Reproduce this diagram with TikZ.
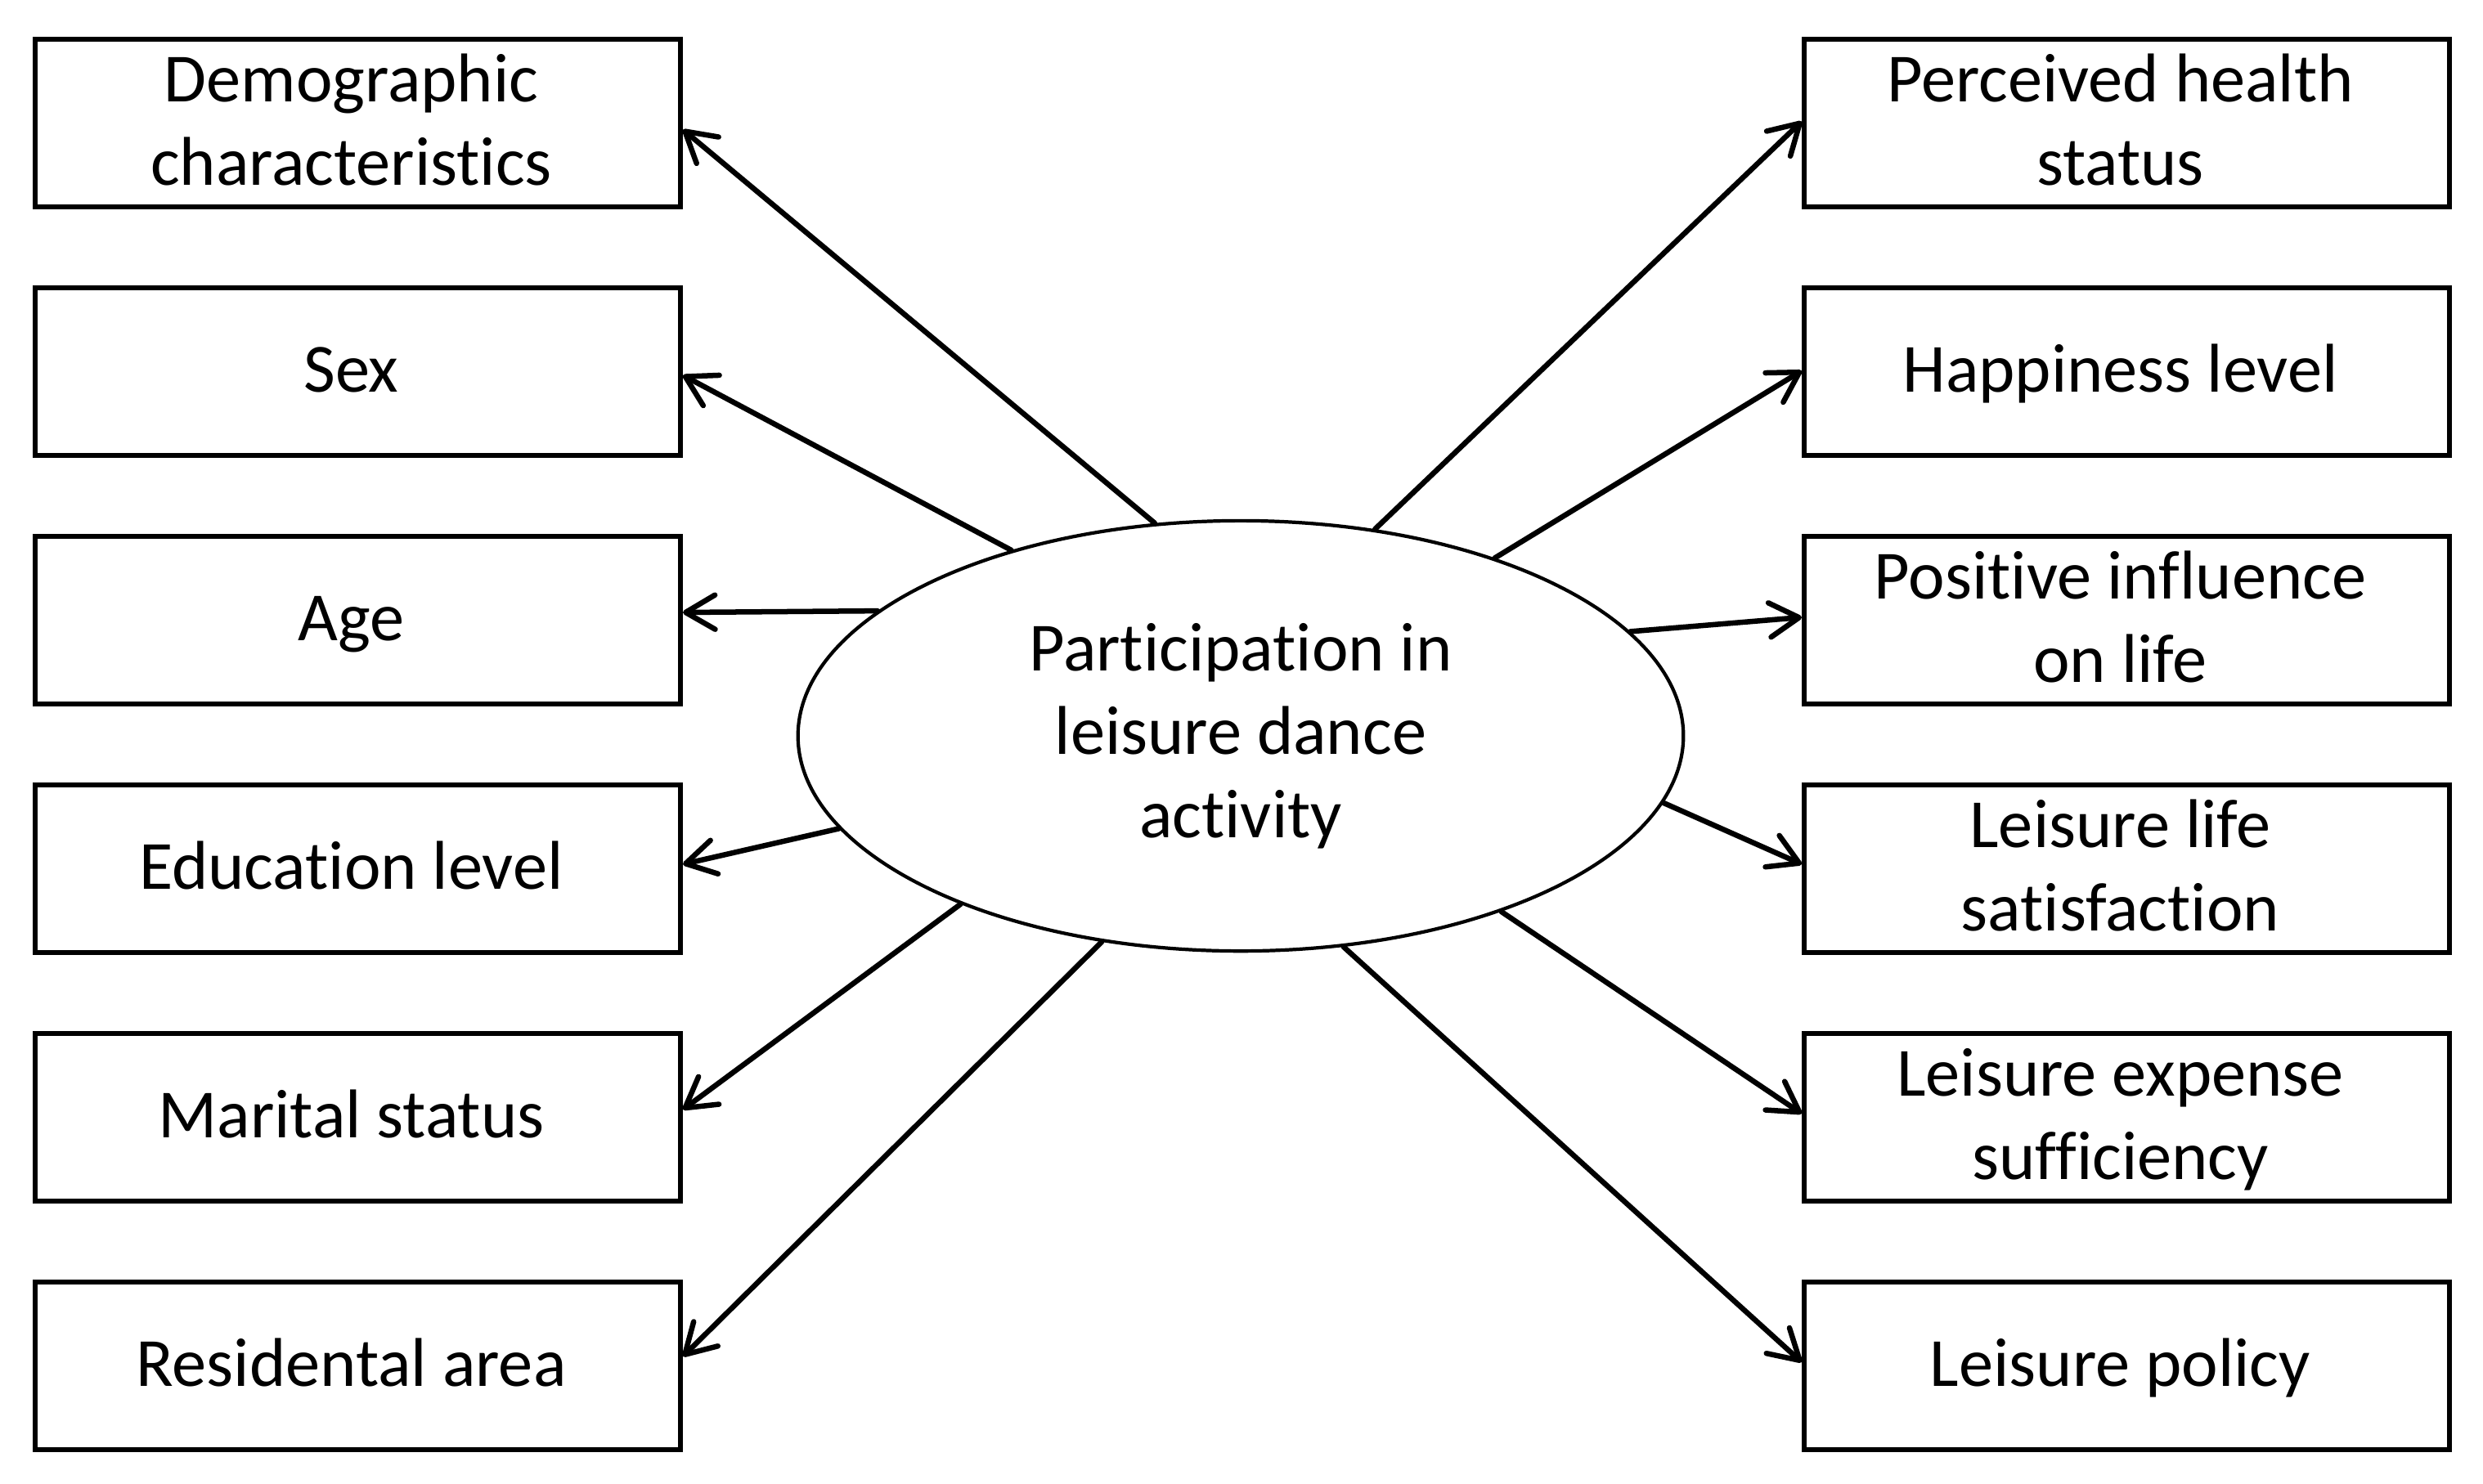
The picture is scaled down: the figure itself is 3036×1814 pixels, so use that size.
\documentclass[tikz,border=0pt]{standalone}
\usepackage{fontspec}
\setmainfont{Carlito}[Ligatures=NoCommon]
\usetikzlibrary{shapes.geometric,arrows.meta}
\newcommand{\boxlines}[1]{\kern-0.16cm\raisebox{-0.05cm}[\height][\depth]{\begin{tabular}{@{}c@{}}#1\end{tabular}}}
\begin{document}
\begin{tikzpicture}[x=0.01cm,y=-0.01cm,
  box/.style={draw, line width=1.6pt, minimum width=7.89cm, minimum height=2.05cm, inner sep=0pt, font=\fontsize{24}{29}\selectfont},
  hub/.style={draw, ellipse, line width=1.2pt, minimum width=10.82cm, minimum height=5.26cm, inner sep=0pt, align=center, font=\fontsize{24}{29}\selectfont},
  arr/.style={line width=1.85pt, line cap=round, line join=round, -{Straight Barb[length=3.6mm,width=4.2mm,line cap=round,line join=round]}}]
\useasboundingbox (0,0) rectangle (3036,1814);
\node[box] (L1) at (437.5,150.5) {\boxlines{Demographic\\characteristics}};
\node[box] (L2) at (437.5,454.5) {\boxlines{Sex}};
\node[box] (L3) at (437.5,758.5) {\boxlines{Age}};
\node[box] (L4) at (437.5,1062.5) {\boxlines{Education level}};
\node[box] (L5) at (437.5,1366.5) {\boxlines{Marital status}};
\node[box] (L6) at (437.5,1670.5) {\boxlines{Residental area}};
\node[box] (R1) at (2600.5,150.5) {\boxlines{Perceived health\\status}};
\node[box] (R2) at (2600.5,454.5) {\boxlines{Happiness level}};
\node[box] (R3) at (2600.5,758.5) {\boxlines{Positive influence\\on life}};
\node[box] (R4) at (2600.5,1062.5) {\boxlines{Leisure life\\satisfaction}};
\node[box] (R5) at (2600.5,1366.5) {\boxlines{Leisure expense\\sufficiency}};
\node[box] (R6) at (2600.5,1670.5) {\boxlines{Leisure policy}};
\node[hub] (E) at (1517,900) {Participation in\\leisure dance\\activity};
\draw[arr] (E.112.2) -- ([yshift=-0.08cm]L1.east);
\draw[arr] (E.141.2) -- ([yshift=-0.045cm]L2.east);
\draw[arr] (E.161.5) -- ([yshift=0.095cm]L3.east);
\draw[arr] (E.193.4) -- ([yshift=0.055cm]L4.east);
\draw[arr] (E.211.3) -- ([yshift=0.095cm]L5.east);
\draw[arr] (E.236.2) -- ([yshift=0.115cm]L6.east);
\draw[arr] (E.57.1) -- ([yshift=0.02cm]R1.west);
\draw[arr] (E.35.3) -- ([yshift=0.01cm]R2.west);
\draw[arr] (E.15.0) -- ([yshift=0.035cm]R3.west);
\draw[arr] (E.351.2) -- ([yshift=0.055cm]R4.west);
\draw[arr] (E.326.9) -- ([yshift=0.045cm]R5.west);
\draw[arr] (E.296.7) -- ([yshift=0.045cm]R6.west);
\end{tikzpicture}
\end{document}
